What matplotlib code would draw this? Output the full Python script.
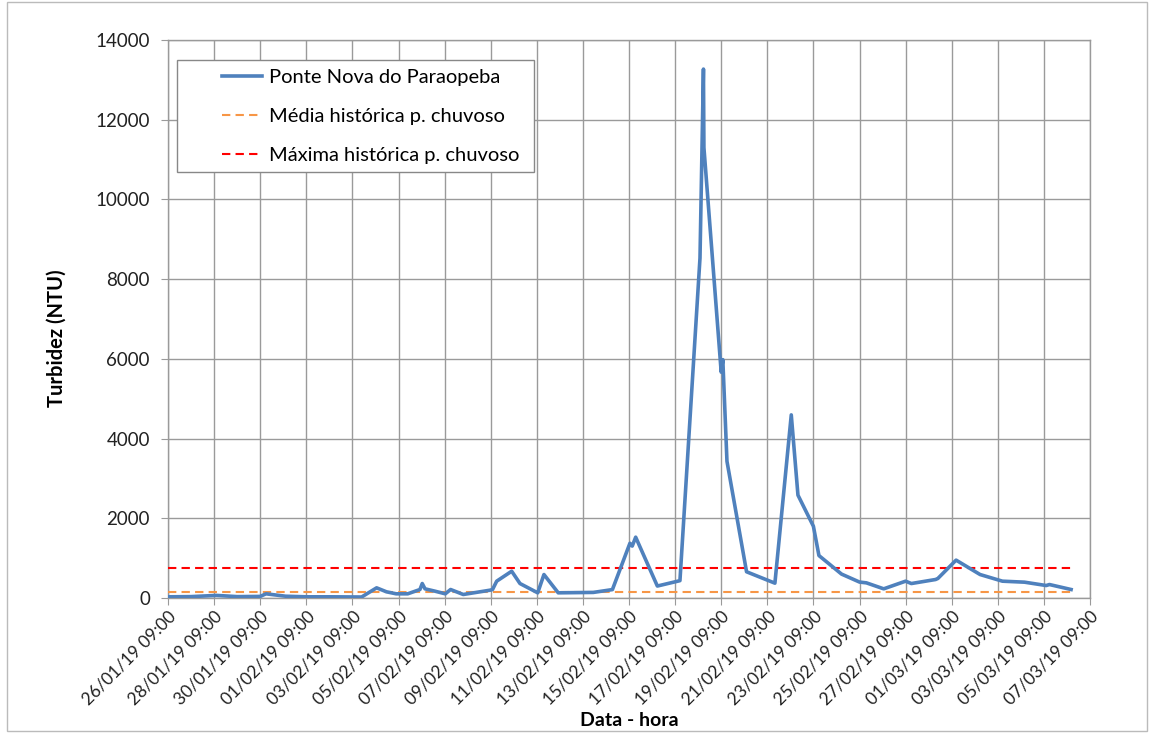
import matplotlib
matplotlib.use("Agg")
import matplotlib.pyplot as plt
import matplotlib.dates as mdates
from matplotlib.patches import Rectangle
import pandas as pd

# dias desde 26/01/19 09:00 e turbidez (NTU)
dias = [0.0, 1.0, 2.1, 3.0, 4.0, 4.25, 5.1, 6.0, 7.0, 8.4,
        9.05, 9.48, 9.9, 10.4, 10.93, 11.03, 11.15, 11.59, 12.03, 12.26,
        12.81, 13.97, 14.08, 14.26, 14.91, 15.27, 16.04, 16.31, 16.93, 18.45,
        19.28, 20.04, 20.14, 20.29, 21.23, 22.21, 23.08, 23.23, 23.25, 24.0,
        24.07, 24.25, 25.1, 26.33, 27.04, 27.33, 28.0, 28.24, 29.22, 30.0,
        30.3, 31.05, 32.0, 32.25, 33.3, 33.4, 34.19, 35.23, 36.2, 37.16,
        38.1, 38.24, 39.18]
turbidez = [30, 35, 65, 35, 40, 105, 45, 30, 30, 25,
            255, 155, 105, 105, 213, 363, 230, 170, 105, 213,
            88, 196, 213, 422, 672, 363, 130, 589, 130, 140,
            211, 1374, 1302, 1526, 300, 435, 8530, 13270, 11300, 5667,
            5980, 3431, 658, 372, 4594, 2581, 1800, 1065, 600, 400,
            380, 230, 422, 363, 464, 490, 950, 589, 422, 397,
            313, 338, 213]

media_historica = 150
maxima_historica = 750

inicio = pd.Timestamp("2019-01-26 09:00")
tempos = inicio + pd.to_timedelta(dias, unit="D")
ticks_x = pd.date_range(inicio, periods=21, freq="2D")
ticks_y = list(range(0, 14001, 2000))

plt.rcParams['font.family'] = ['Lato', 'DejaVu Sans']

fig = plt.figure(figsize=(11.62, 7.33), dpi=100)
ax = fig.add_axes([168/1162, 1 - 598/733, 922/1162, 558/733])

ax.plot(tempos, turbidez, color='#4F81BD', lw=2.6, solid_joinstyle='round',
        label='Ponte Nova do Paraopeba', zorder=4)
ax.plot([tempos[0], tempos[-1]], [media_historica] * 2, color='#F79646',
        lw=1.5, ls=(0, (4, 2.5)), label='Média histórica p. chuvoso', zorder=3)
ax.plot([tempos[0], tempos[-1]], [maxima_historica] * 2, color='#FF0000',
        lw=1.5, ls=(0, (4, 2.5)), label='Máxima histórica p. chuvoso', zorder=3)

ax.set_xlim(ticks_x[0], ticks_x[-1])
ax.set_ylim(0, 14000)
ax.set_xticks(ticks_x)
ax.xaxis.set_major_formatter(mdates.DateFormatter('%d/%m/%y %H:%M'))
ax.set_yticks(ticks_y)

ax.grid(True, color='#9a9a9a', lw=1)
for s in ax.spines.values():
    s.set_color('#9a9a9a')
    s.set_linewidth(1)

ax.tick_params(axis='x', direction='out', length=5, color='#9a9a9a',
               labelsize=12.5, labelcolor='#222222', pad=2)
ax.tick_params(axis='y', direction='out', length=5, color='#9a9a9a',
               labelsize=13.5, labelcolor='#222222', pad=8)
plt.setp(ax.get_xticklabels(), rotation=45, ha='right', rotation_mode='anchor')

ax.set_ylabel('Turbidez (NTU)', fontsize=14.5, fontweight='bold')
ax.yaxis.set_label_coords(-0.11, 0.466)
ax.set_xlabel('Data - hora', fontsize=14, fontweight='bold')
ax.xaxis.set_label_coords(0.5, -0.205)

# moldura da legenda desenhada à parte (margem esquerda larga, como no Excel)
ax.add_patch(Rectangle((0.00976, 0.7634), 0.387, 0.2007, transform=ax.transAxes,
                       facecolor='white', edgecolor='#888888', lw=1, zorder=5))
leg = ax.legend(loc='upper left', bbox_to_anchor=(0.0499, 0.962), borderaxespad=0,
                fontsize=14.5, handlelength=2.0, handletextpad=0.35,
                labelspacing=1.08, borderpad=0.4, frameon=False)
leg.set_zorder(6)

fig.patches.append(Rectangle((7/1162, 0.003), 1140/1162, 0.994, transform=fig.transFigure,
                             fill=False, edgecolor='#bbbbbb', lw=1))

fig.savefig('out.png', dpi=100)
